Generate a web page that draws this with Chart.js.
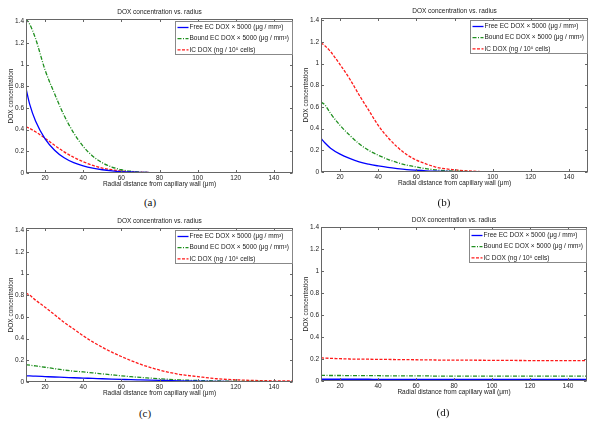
<!DOCTYPE html>
<html lang="en">
<head>
<meta charset="utf-8">
<title>DOX concentration vs. radius</title>
<script src="https://cdn.jsdelivr.net/npm/chart.js@4.4.0/dist/chart.umd.min.js"></script>
<style>
    html, body { margin: 0; padding: 0; background: #fff; }
    #page { position: relative; width: 600px; height: 425px; overflow: hidden; }
    canvas { position: absolute; }
    .sub { position: absolute; font-family: "Liberation Serif", "Times New Roman", serif; font-size: 11px; color: #111; transform: translate(-50%, -50%); }
</style>
</head>
<body>
<div id="page">
    <canvas id="chartA" width="300" height="192" style="left:0; top:0;"></canvas>
    <canvas id="chartB" width="300" height="191" style="left:295px; top:0;"></canvas>
    <canvas id="chartC" width="300" height="192" style="left:0; top:209px;"></canvas>
    <canvas id="chartD" width="300" height="192" style="left:295px; top:208px;"></canvas>
    <div class="sub" style="left:150px; top:202px;">(a)</div>
    <div class="sub" style="left:444px; top:202px;">(b)</div>
    <div class="sub" style="left:145px; top:413px;">(c)</div>
    <div class="sub" style="left:443px; top:412px;">(d)</div>
</div>
<script>
    // radial distance from capillary wall (um), same grid for all panels
    const radius = [10, 12, 15, 20, 25, 30, 35, 40, 45, 50, 55, 60, 65, 70, 75, 80, 90, 100, 110, 120, 130, 140, 150];

    const xTicks = [20, 40, 60, 80, 100, 120, 140];
    const yTicks = [0, 0.2, 0.4, 0.6, 0.8, 1, 1.2, 1.4];

    const labels = ['Free EC DOX \u00d7 5000 (\u03bcg / mm\u00b3)', 'Bound EC DOX \u00d7 5000 (\u03bcg / mm\u00b3)', 'IC DOX (ng / 10\u2075 cells)'];

    // (a)
    const freeA = [0.78, 0.63, 0.48, 0.315, 0.21, 0.14, 0.095, 0.065, 0.044, 0.03, 0.02, 0.013, 0.009, 0.006, 0.004, 0.002, 0.001, 0, 0, 0, 0, 0, 0];
    const boundA = [1.42, 1.37, 1.24, 0.95, 0.73, 0.53, 0.37, 0.245, 0.155, 0.095, 0.055, 0.03, 0.016, 0.008, 0.004, 0.002, 0.001, 0, 0, 0, 0, 0, 0];
    const icA = [0.425, 0.41, 0.38, 0.32, 0.255, 0.195, 0.145, 0.104, 0.07, 0.046, 0.03, 0.018, 0.011, 0.007, 0.004, 0.003, 0.001, 0, 0, 0, 0, 0, 0];

    // (b)
    const freeB = [0.31, 0.27, 0.22, 0.165, 0.125, 0.093, 0.072, 0.056, 0.042, 0.031, 0.022, 0.016, 0.011, 0.008, 0.006, 0.004, 0.002, 0.001, 0, 0, 0, 0, 0];
    const boundB = [0.645, 0.62, 0.54, 0.43, 0.34, 0.26, 0.2, 0.155, 0.117, 0.087, 0.063, 0.046, 0.031, 0.02, 0.013, 0.008, 0.003, 0.001, 0, 0, 0, 0, 0];
    const icB = [1.19, 1.165, 1.11, 0.99, 0.86, 0.71, 0.57, 0.43, 0.32, 0.23, 0.16, 0.11, 0.075, 0.046, 0.03, 0.02, 0.007, 0.002, 0.001, 0, 0, 0, 0];

    // (c)
    const freeC = [0.058, 0.056, 0.054, 0.05, 0.046, 0.043, 0.039, 0.036, 0.033, 0.03, 0.027, 0.024, 0.021, 0.019, 0.017, 0.015, 0.011, 0.008, 0.006, 0.004, 0.003, 0.002, 0.002];
    const boundC = [0.16, 0.155, 0.148, 0.136, 0.123, 0.11, 0.1, 0.093, 0.084, 0.075, 0.066, 0.057, 0.049, 0.042, 0.036, 0.03, 0.02, 0.014, 0.01, 0.007, 0.005, 0.004, 0.003];
    const icC = [0.82, 0.8, 0.755, 0.69, 0.62, 0.55, 0.488, 0.426, 0.37, 0.32, 0.275, 0.235, 0.198, 0.164, 0.135, 0.11, 0.072, 0.05, 0.03, 0.02, 0.014, 0.011, 0.01];

    // (d)
    const freeD = [0.016, 0.016, 0.016, 0.016, 0.016, 0.016, 0.016, 0.015, 0.015, 0.015, 0.015, 0.015, 0.015, 0.015, 0.015, 0.015, 0.015, 0.015, 0.015, 0.015, 0.015, 0.015, 0.015];
    const boundD = [0.052, 0.051, 0.05, 0.05, 0.049, 0.049, 0.048, 0.048, 0.047, 0.047, 0.046, 0.046, 0.046, 0.045, 0.045, 0.045, 0.045, 0.045, 0.044, 0.044, 0.044, 0.044, 0.044];
    const icD = [0.21, 0.208, 0.206, 0.203, 0.2, 0.199, 0.198, 0.197, 0.196, 0.195, 0.194, 0.193, 0.192, 0.191, 0.19, 0.19, 0.189, 0.188, 0.187, 0.186, 0.186, 0.185, 0.185];

    const FONT = '"Liberation Sans", Arial, sans-serif';
    const TEXT = '#222';
    const styles = [
        { color: '#0000ff', dash: [] },
        { color: '#1f8f1f', dash: [4, 1.5, 1, 1.5] },
        { color: '#ff1a1a', dash: [3, 1.5] },
    ];

    Chart.defaults.font.family = FONT;
    Chart.defaults.color = TEXT;

    // matlab-ish box, inward ticks, centred title and legend inside the axes
    const panelDecor = {
        id: 'panelDecor',
        afterDraw(chart) {
            const { ctx, chartArea: a, scales } = chart;
            const L = Math.round(a.left) + 0.5, R = Math.round(a.right) - 0.5;
            const T = Math.round(a.top) + 0.5, B = Math.round(a.bottom) - 0.5;
            ctx.save();
            ctx.strokeStyle = '#666';
            ctx.lineWidth = 1;
            ctx.strokeRect(L, T, R - L, B - T);

            ctx.beginPath();
            scales.x.ticks.forEach(t => {
                const px = Math.round(scales.x.getPixelForValue(t.value)) + 0.5;
                ctx.moveTo(px, B); ctx.lineTo(px, B - 2.5);
                ctx.moveTo(px, T); ctx.lineTo(px, T + 2.5);
            });
            scales.y.ticks.forEach(t => {
                const py = Math.round(scales.y.getPixelForValue(t.value)) + 0.5;
                ctx.moveTo(L, py); ctx.lineTo(L + 2.5, py);
                ctx.moveTo(R, py); ctx.lineTo(R - 2.5, py);
            });
            ctx.stroke();

            ctx.fillStyle = TEXT;
            ctx.font = '6.5px ' + FONT;
            ctx.textAlign = 'center';
            ctx.textBaseline = 'middle';
            ctx.fillText('DOX concentration vs. radius', (a.left + a.right) / 2, a.top - 7);

            // legend
            const w = 117, h = 33;
            const lx = Math.round(a.right) - 1 - w + 0.5, ly = Math.round(a.top) + 2 + 0.5;
            ctx.fillStyle = '#fff';
            ctx.fillRect(lx, ly, w, h);
            ctx.strokeStyle = '#888';
            ctx.strokeRect(lx, ly, w, h);
            ctx.textAlign = 'left';
            labels.forEach((lab, i) => {
                const y = ly + 6 + i * 11.2;
                ctx.strokeStyle = styles[i].color;
                ctx.lineWidth = 1.3;
                ctx.setLineDash(styles[i].dash);
                ctx.beginPath();
                ctx.moveTo(lx + 2, y); ctx.lineTo(lx + 13, y);
                ctx.stroke();
                ctx.setLineDash([]);
                ctx.fillStyle = TEXT;
                ctx.fillText(lab, lx + 14, y);
            });
            ctx.restore();
        }
    };

    const makePanel = (id, series, yMax, pad) => {
        const datasets = series.map((vals, i) => ({
            label: labels[i],
            data: radius.map((r, j) => ({ x: r, y: vals[j] })),
            borderColor: styles[i].color,
            backgroundColor: styles[i].color,
            borderDash: styles[i].dash,
            borderWidth: 1.3,
            pointRadius: 0,
            cubicInterpolationMode: 'monotone',
        }));

        return new Chart(document.getElementById(id), {
            type: 'line',
            data: { datasets },
            plugins: [panelDecor],
            options: {
                responsive: false,
                animation: false,
                events: [],
                layout: { padding: pad },
                plugins: {
                    legend: { display: false },
                    title: { display: false },
                    tooltip: { enabled: false },
                },
                scales: {
                    x: {
                        type: 'linear',
                        min: 10,
                        max: 150,
                        afterBuildTicks: s => { s.ticks = xTicks.map(v => ({ value: v })); },
                        afterFit: s => { s.height = 19; },
                        grid: { display: false, drawTicks: false },
                        border: { display: false },
                        ticks: { font: { size: 6.5 }, color: TEXT, padding: 1, maxRotation: 0, autoSkip: false, callback: v => String(v) },
                        title: { display: true, text: 'Radial distance from capillary wall (\u03bcm)', font: { size: 6.5 }, color: TEXT, padding: { top: 0, bottom: 4 } },
                    },
                    y: {
                        type: 'linear',
                        min: 0,
                        max: yMax,
                        afterBuildTicks: s => { s.ticks = yTicks.map(v => ({ value: v })); },
                        afterFit: s => { s.width = 26; },
                        grid: { display: false, drawTicks: false },
                        border: { display: false },
                        ticks: { font: { size: 6.5 }, color: TEXT, padding: 2, autoSkip: false, callback: v => String(+v.toFixed(2)) },
                        title: { display: true, text: 'DOX concentration', font: { size: 6.5 }, color: TEXT, padding: { top: 7, bottom: 0 } },
                    },
                },
            },
        });
    };

    makePanel('chartA', [freeA, boundA, icA], 1.42, { top: 19, right: 7, left: 0, bottom: 0 });
    makePanel('chartB', [freeB, boundB, icB], 1.42, { top: 18, right: 7, left: 0, bottom: 0 });
    makePanel('chartC', [freeC, boundC, icC], 1.42, { top: 19, right: 7, left: 0, bottom: 0 });
    makePanel('chartD', [freeD, boundD, icD], 1.4, { top: 19, right: 8, left: 0, bottom: 0 });
</script>
</body>
</html>
